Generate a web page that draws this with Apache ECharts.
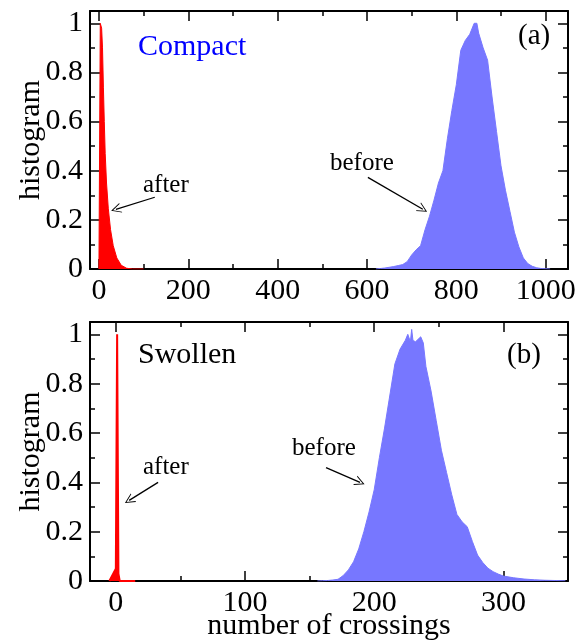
<!DOCTYPE html>
<html>
<head>
<meta charset="utf-8">
<script src="https://cdn.jsdelivr.net/npm/echarts@6/dist/echarts.min.js"></script>
<style>
html,body{margin:0;padding:0;background:#fff;}
#chart{width:586px;height:641px;}
</style>
</head>
<body>
<div id="chart"></div>
<script>
// tick values
var yTicks = [0, 0.2, 0.4, 0.6, 0.8, 1];
var yMinor = [0.1, 0.3, 0.5, 0.7, 0.9];
var xTicksA = [0, 200, 400, 600, 800, 1000];
var xMinorA = [100, 300, 500, 700, 900];
var xTicksB = [0, 100, 200, 300];
var xMinorB = [50, 150, 250];

// (a) compact: after
var afterA_x = [0, 3, 6, 8, 10, 12, 14, 17, 21, 26, 32, 40, 50, 62, 75, 100];
var afterA_y = [0, 1.0, 0.98, 0.9, 0.74, 0.6, 0.47, 0.35, 0.245, 0.16, 0.095, 0.045, 0.015, 0.003, 0, 0];
// (a) compact: before
var beforeA_x = [620, 630, 640, 650, 660, 670, 680, 690, 700, 710, 720, 730, 740, 750, 760, 770, 780, 790, 800, 810, 820, 830, 840, 846, 850, 860, 870, 880, 890, 900, 910, 920, 930, 940, 950, 960, 970, 980, 990, 1000, 1010];
var beforeA_y = [0, 0.002, 0.004, 0.007, 0.01, 0.014, 0.018, 0.03, 0.057, 0.078, 0.095, 0.16, 0.215, 0.28, 0.35, 0.4, 0.53, 0.645, 0.75, 0.89, 0.93, 0.955, 1.0, 1.0, 0.96, 0.9, 0.85, 0.7, 0.56, 0.42, 0.32, 0.235, 0.15, 0.09, 0.045, 0.022, 0.011, 0.005, 0.002, 0.001, 0];

// (b) swollen: after
var afterB_x = [-5, 0, 1, 2, 3, 15];
var afterB_y = [0, 0.05, 1.0, 0.03, 0, 0];
// (b) swollen: before
var beforeB_x = [156, 160, 164, 168, 172, 176, 180, 184, 188, 192, 196, 200, 204, 208, 212, 216, 220, 224, 226, 228, 229, 230, 232, 236, 238, 240, 244, 248, 252, 256, 260, 264, 268, 272, 276, 280, 284, 288, 292, 296, 300, 308, 316, 324, 332, 340, 348];
var beforeB_y = [0, 0.001, 0.002, 0.004, 0.007, 0.022, 0.045, 0.078, 0.13, 0.2, 0.28, 0.37, 0.5, 0.62, 0.75, 0.88, 0.94, 0.975, 1.0, 0.97, 1.02, 0.975, 0.97, 0.99, 0.965, 0.87, 0.77, 0.65, 0.53, 0.44, 0.35, 0.27, 0.24, 0.22, 0.16, 0.105, 0.075, 0.052, 0.038, 0.028, 0.02, 0.013, 0.008, 0.005, 0.003, 0.002, 0.001];

var FONT = '"Liberation Serif", "Times New Roman", serif';
var RED = '#ff0000';
var BLUE = '#7777ff';
var ARROW = 'path://M0,0 L6,12 L4.8,12 L0,2.4 L-4.8,12 L-6,12 Z';

function pairs(xs, ys) {
	var out = [];
	for (var i = 0; i < xs.length; i++) {
		out.push([xs[i], ys[i]]);
	}
	return out;
}

// one side of the frame: major ticks (with line/labels) or minor ticks
function axis(grid, pos, min, max, ticks, len, main, labels) {
	return {
		type: 'value',
		gridIndex: grid,
		position: pos,
		min: min,
		max: max,
		axisLine: {show: main, onZero: false, lineStyle: {color: '#000', width: 2}},
		axisTick: {show: true, inside: true, length: len, customValues: ticks,
			lineStyle: {color: '#000', width: 1.5}},
		axisLabel: {show: !!labels, customValues: labels || [], margin: 7,
			color: '#000', fontFamily: FONT, fontSize: 30,
			formatter: function (v) { return String(v); }},
		splitLine: {show: false}
	};
}

function setName(ax, name, gap) {
	ax.name = name;
	ax.nameLocation = 'middle';
	ax.nameGap = gap;
	ax.nameMoveOverlap = false;
	ax.nameTextStyle = {fontFamily: FONT, fontSize: 30, color: '#000'};
}

var chart = echarts.init(document.getElementById('chart'));

var xAxes = [
	axis(0, 'bottom', -20, 1050, xTicksA, 10, true, xTicksA),
	axis(0, 'bottom', -20, 1050, xMinorA, 5, false),
	axis(0, 'top', -20, 1050, xTicksA, 10, true),
	axis(0, 'top', -20, 1050, xMinorA, 5, false),
	axis(1, 'bottom', -20, 350, xTicksB, 10, true, xTicksB),
	axis(1, 'bottom', -20, 350, xMinorB, 5, false),
	axis(1, 'top', -20, 350, xTicksB, 10, true),
	axis(1, 'top', -20, 350, xMinorB, 5, false)
];
setName(xAxes[4], 'number of crossings', 30);

var yAxes = [
	axis(0, 'left', 0, 1.05, yTicks, 10, true, yTicks),
	axis(0, 'left', 0, 1.05, yMinor, 5, false),
	axis(0, 'right', 0, 1.05, yTicks, 10, true),
	axis(0, 'right', 0, 1.05, yMinor, 5, false),
	axis(1, 'left', 0, 1.05, yTicks, 10, true, yTicks),
	axis(1, 'left', 0, 1.05, yMinor, 5, false),
	axis(1, 'right', 0, 1.05, yTicks, 10, true),
	axis(1, 'right', 0, 1.05, yMinor, 5, false)
];
setName(yAxes[0], 'histogram', 44);
setName(yAxes[4], 'histogram', 44);

function arrow(from, to) {
	return {
		silent: true,
		symbol: ['none', ARROW],
		symbolSize: [10, 10],
		label: {show: false},
		lineStyle: {color: '#000', width: 1.3, type: 'solid'},
		data: [[{coord: from}, {coord: to}]]
	};
}

function area(name, data, color, xi, yi, lw, ml) {
	return {
		name: name,
		type: 'line',
		xAxisIndex: xi,
		yAxisIndex: yi,
		data: data,
		showSymbol: false,
		symbol: 'none',
		animation: false,
		lineStyle: {color: color, width: lw},
		areaStyle: {color: color, opacity: 1},
		markLine: ml
	};
}

function txt(t, x, y, size, color) {
	return {
		type: 'text',
		x: x,
		y: y,
		style: {text: t, fontFamily: FONT, fontSize: size, fill: color || '#000', verticalAlign: 'middle'}
	};
}

var option = {
	backgroundColor: '#fff',
	animation: false,
	grid: [
		{left: 90, right: 18, top: 11, height: 258, outerBoundsMode: 'none'},
		{left: 90, right: 18, top: 322, height: 259, outerBoundsMode: 'none'}
	],
	xAxis: xAxes,
	yAxis: yAxes,
	series: [
		area('afterA', pairs(afterA_x, afterA_y), RED, 0, 0, 1, arrow([125, 0.292], [38, 0.243])),
		area('beforeA', pairs(beforeA_x, beforeA_y), BLUE, 0, 0, 1, arrow([602, 0.373], [725, 0.243])),
		area('beforeB', pairs(beforeB_x, beforeB_y), BLUE, 4, 4, 1, arrow([162.7, 0.46], [189, 0.4])),
		area('afterB', pairs(afterB_x, afterB_y), RED, 4, 4, 2, arrow([32.7, 0.4], [10.3, 0.327]))
	],
	graphic: [
		txt('Compact', 138, 47, 30, '#0000ff'),
		txt('(a)', 518, 36, 29),
		txt('after', 143, 185, 25),
		txt('before', 330, 163, 25),
		txt('Swollen', 138, 355, 30),
		txt('(b)', 507, 355, 29),
		txt('after', 143, 467, 25),
		txt('before', 292, 448, 25)
	]
};

chart.setOption(option);
</script>
</body>
</html>
